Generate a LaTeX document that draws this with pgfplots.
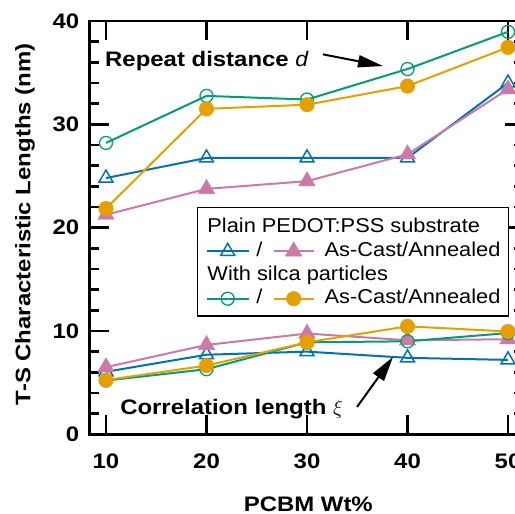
\documentclass[border=0pt]{standalone}
\usepackage{pgfplots}
\pgfplotsset{compat=1.18}
\usetikzlibrary{arrows.meta}
\usepackage{fontspec}
\setmainfont{Liberation Sans}[FakeStretch=1.09, BoldFeatures={FakeStretch=1.14}]
\definecolor{cblue}{RGB}{0,114,178}
\definecolor{cpink}{RGB}{204,121,167}
\definecolor{cgreen}{RGB}{0,158,115}
\definecolor{corange}{RGB}{230,159,0}
\tikzset{
  pblue/.style={color=cblue, line width=2pt, mark=triangle, mark size=8pt, mark options={solid, line width=1.5pt}},
  ppink/.style={color=cpink, line width=2pt, mark=triangle*, mark size=9.5pt, mark options={solid, line width=0.4pt}},
  pgreen/.style={color=cgreen, line width=2pt, mark=o, mark size=6.5pt, mark options={solid, line width=1.3pt}},
  porange/.style={color=corange, line width=2pt, mark=*, mark size=7.3pt, mark options={solid, line width=0.4pt}},
}
\begin{document}
\begin{tikzpicture}
\begin{axis}[
  scale only axis, width=435pt, height=413.3pt,
  xmin=8.358, xmax=51.64, ymin=0, ymax=40,
  xtick={10,20,30,40,50}, ytick={0,10,20,30,40},
  minor y tick num=4,
  tick align=inside,
  major tick length=19pt, minor tick length=10pt,
  axis line style={line width=2.8pt},
  every tick/.style={black, line width=2.8pt},
  /pgf/number format/assume math mode=true,
  ticklabel style={font=\bfseries\fontsize{21}{24}\selectfont},
  yticklabel style={inner sep=0pt, xshift=-10pt},
  xticklabel style={inner sep=0pt, yshift=-19pt},
  xlabel={PCBM Wt\%},
  ylabel={T-S Characteristic Lengths (nm)},
  label style={font=\bfseries\fontsize{21}{24}\selectfont},
  xlabel style={at={(axis description cs:0.503,-0.1685)}, anchor=center},
  ylabel style={at={(axis description cs:-0.1483,0.508)}, anchor=center},
  legend style={at={(axis cs:19.05,22.04)}, anchor=north west, draw=black, line width=1.5pt, fill=white,
    font=\fontsize{20}{24}\selectfont, inner xsep=8pt, inner ysep=8.3pt, row sep=2.7pt, column sep=10pt,
    nodes={inner sep=0pt, text height=17pt, text depth=4pt}},
  legend cell align=left,
]
% upper: repeat distance d
\addplot[pblue, forget plot] coordinates {(10,24.8) (20,26.75) (30,26.75) (40,26.75) (50,34.0)};
\addplot[ppink, forget plot] coordinates {(10,21.25) (20,23.75) (30,24.5) (40,27.1) (50,33.4)};
\addplot[pgreen, forget plot] coordinates {(10,28.2) (20,32.75) (30,32.4) (40,35.35) (50,38.95)};
\addplot[porange, forget plot] coordinates {(10,21.85) (20,31.5) (30,31.9) (40,33.7) (50,37.45)};
% lower: correlation length xi
\addplot[pblue, forget plot] coordinates {(10,6.05) (20,7.7) (30,8.0) (40,7.4) (50,7.2)};
\addplot[ppink, forget plot] coordinates {(10,6.5) (20,8.65) (30,9.75) (40,9.1) (50,9.2)};
\addplot[pgreen, forget plot] coordinates {(10,5.2) (20,6.3) (30,8.9) (40,9.0) (50,9.8)};
\addplot[porange, forget plot] coordinates {(10,5.25) (20,6.65) (30,8.9) (40,10.45) (50,9.95)};

\addlegendimage{legend image code/.code={\node[overlay, anchor=west] at (0pt,0pt) {Plain PEDOT:PSS substrate};}}
\addlegendentry{}
\addlegendimage{legend image code/.code={
  \draw[cblue, line width=2pt] (0pt,-1.5pt) -- (42pt,-1.5pt);
  \draw[pblue] plot coordinates {(21pt,-1.5pt)};
  \node[anchor=west] at (49pt,0pt) {/};
  \draw[cpink, line width=2pt] (67pt,-1.5pt) -- (107pt,-1.5pt);
  \draw[ppink] plot coordinates {(87pt,-1.5pt)};
}}
\addlegendentry{As-Cast/Annealed}
\addlegendimage{legend image code/.code={\node[overlay, anchor=west] at (0pt,0pt) {With silca particles};}}
\addlegendentry{}
\addlegendimage{legend image code/.code={
  \draw[cgreen, line width=2pt] (0pt,-1.5pt) -- (42pt,-1.5pt);
  \draw[pgreen] plot coordinates {(21pt,-1.5pt)};
  \node[anchor=west] at (49pt,0pt) {/};
  \draw[corange, line width=2pt] (67pt,-1.5pt) -- (107pt,-1.5pt);
  \draw[porange] plot coordinates {(87pt,-1.5pt)};
}}
\addlegendentry{As-Cast/Annealed}

\node[anchor=base west, inner sep=0pt, font=\bfseries\fontsize{21}{24}\selectfont] at (axis cs:9.9,35.62) {Repeat distance \textnormal{\itshape d}};
\draw[line width=2pt, -{Triangle[length=25pt,width=12pt]}] (axis cs:31.59,36.77) -- (axis cs:37.56,35.64);
\node[anchor=base west, inner sep=0pt, font=\bfseries\fontsize{21}{24}\selectfont] at (axis cs:11.4,1.87) {Correlation length $\xi$};
\draw[line width=2pt, -{Triangle[length=25pt,width=13pt]}] (axis cs:34.98,2.65) -- (axis cs:38.56,7.49);

\coordinate (O) at (rel axis cs:0,0);
\end{axis}
\pgfresetboundingbox
\path ([shift={(-89.5pt,-79.7pt)}]O) rectangle ([shift={(425.5pt,434.3pt)}]O);
\end{tikzpicture}
\end{document}
